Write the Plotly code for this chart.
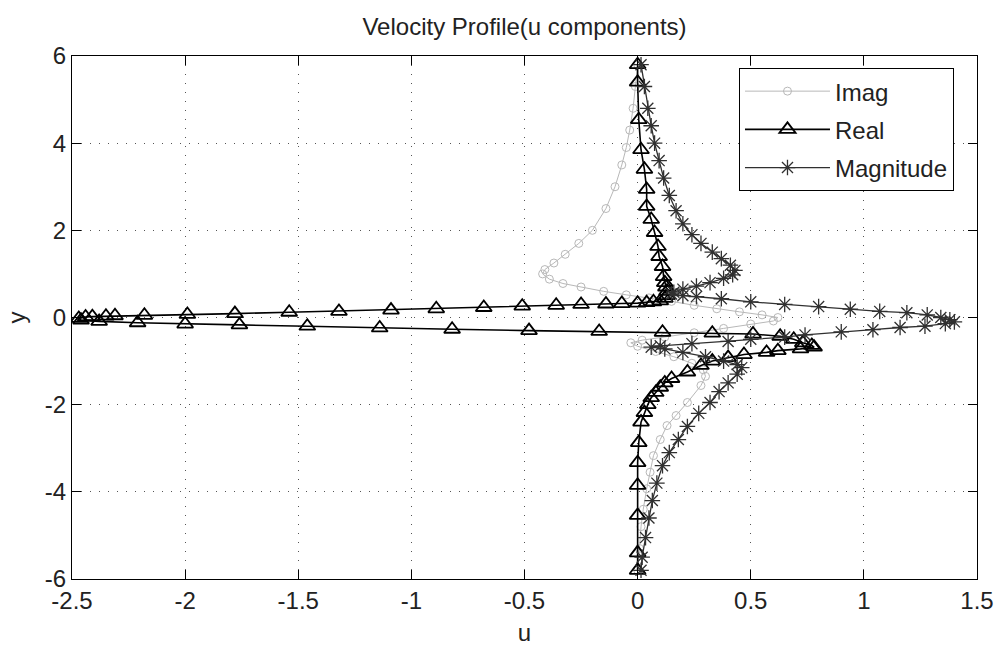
import plotly.graph_objects as go

# ---------------- data ----------------
real_u = [0.0, 0.0, 0.005, 0.015, 0.03, 0.04, 0.04, 0.06, 0.075, 0.09, 0.095, 0.11, 0.115, 0.12, 0.125, 0.13, 0.13, 0.12,
          0.1, 0.07, 0.04, 0.0, -0.07, -0.14, -0.25, -0.36, -0.51, -0.68, -0.89, -1.09, -1.32, -1.54, -1.78, -1.99,
          -2.18, -2.31, -2.35, -2.41, -2.44, -2.47,
          -2.46, -2.38, -2.21, -2.0, -1.76, -1.46, -1.14, -0.82, -0.48, -0.17, 0.11, 0.33, 0.51, 0.63, 0.69, 0.73, 0.77, 0.78,
          0.72, 0.62, 0.57, 0.47, 0.4, 0.33, 0.28, 0.22, 0.15, 0.12, 0.1, 0.08, 0.06, 0.045, 0.03, 0.015, 0.005, 0.0, 0.0,
          0.0, 0.0, 0.0]
real_y = [5.8, 5.4, 4.54, 3.85, 3.4, 2.94, 2.55, 2.25, 1.95, 1.63, 1.4, 1.17, 0.94, 0.8, 0.7, 0.6, 0.5, 0.44,
          0.38, 0.36, 0.34, 0.33, 0.32, 0.31, 0.3, 0.28, 0.26, 0.23, 0.2, 0.17, 0.14, 0.12, 0.09, 0.07,
          0.05, 0.04, 0.03, 0.02, 0.01, -0.02,
          -0.06, -0.09, -0.12, -0.15, -0.17, -0.2, -0.24, -0.27, -0.3, -0.32, -0.34, -0.36, -0.38, -0.43, -0.5, -0.58, -0.64, -0.68,
          -0.72, -0.76, -0.8, -0.85, -0.92, -1.0, -1.1, -1.25, -1.4, -1.5, -1.6, -1.72, -1.84, -2.0, -2.18, -2.4, -2.87, -3.33, -3.85,
          -4.54, -5.4, -5.8]

mag_u = [0.015, 0.03, 0.045, 0.06, 0.075, 0.095, 0.115, 0.14, 0.17, 0.2, 0.24, 0.28, 0.33, 0.37, 0.41, 0.43, 0.42, 0.38,
         0.32, 0.26, 0.2, 0.16, 0.15, 0.2, 0.26, 0.37, 0.5, 0.65, 0.8, 0.94, 1.07, 1.19, 1.28, 1.34, 1.38, 1.4, 1.36, 1.27,
         1.16, 1.04, 0.9, 0.74, 0.65, 0.5, 0.4, 0.24, 0.1, 0.06, 0.12, 0.2, 0.3, 0.38, 0.44, 0.46, 0.44, 0.4, 0.36, 0.32,
         0.27, 0.22, 0.18, 0.14, 0.11, 0.085, 0.065, 0.05, 0.035, 0.02, 0.015]
mag_y = [5.8, 5.3, 4.8, 4.4, 4.0, 3.6, 3.2, 2.8, 2.45, 2.15, 1.9, 1.7, 1.5, 1.35, 1.2, 1.08, 0.98, 0.9,
         0.8, 0.72, 0.65, 0.58, 0.54, 0.5, 0.48, 0.43, 0.36, 0.3, 0.25, 0.19, 0.14, 0.11, 0.06, 0.0, -0.05, -0.1, -0.14, -0.2,
         -0.23, -0.28, -0.33, -0.4, -0.45, -0.5, -0.55, -0.6, -0.65, -0.68, -0.72, -0.8, -0.9, -1.0, -1.08, -1.15, -1.3, -1.5, -1.7, -1.95,
         -2.2, -2.5, -2.8, -3.1, -3.4, -3.8, -4.2, -4.6, -5.05, -5.5, -5.8]

imag_u = [0.0, -0.01, -0.02, -0.035, -0.05, -0.07, -0.1, -0.14, -0.2, -0.26, -0.32, -0.37, -0.41, -0.42, -0.39, -0.33,
          -0.25, -0.15, -0.05, 0.05, 0.15, 0.25, 0.35, 0.45, 0.55, 0.62, 0.6, 0.5, 0.38, 0.25, 0.12, 0.02, -0.03, 0.0,
          0.08, 0.16, 0.24, 0.29, 0.3, 0.28, 0.22, 0.17, 0.13, 0.1, 0.07, 0.055, 0.04, 0.025, 0.015, 0.008, 0.0]
imag_y = [5.8, 5.3, 4.8, 4.3, 3.9, 3.5, 3.0, 2.5, 2.0, 1.7, 1.45, 1.25, 1.1, 1.0, 0.88, 0.78,
          0.7, 0.6, 0.52, 0.45, 0.37, 0.28, 0.2, 0.13, 0.06, 0.0, -0.08, -0.15, -0.25, -0.35, -0.45, -0.52, -0.58, -0.66,
          -0.78, -0.9, -1.05, -1.2, -1.35, -1.56, -1.95, -2.25, -2.48, -2.8, -3.17, -3.55, -3.93, -4.4, -4.8, -5.3, -5.8]

x_ticks = [-2.5, -2, -1.5, -1, -0.5, 0, 0.5, 1, 1.5]
x_tick_labels = ["-2.5", "-2", "-1.5", "-1", "-0.5", "0", "0.5", "1", "1.5"]
y_ticks = [-6, -4, -2, 0, 2, 4, 6]
y_tick_labels = ["-6", "-4", "-2", "0", "2", "4", "6"]

FONT = "Liberation Sans, Arial, sans-serif"
FS = 24
TXT = "#222222"

fig = go.Figure()
fig.add_trace(go.Scatter(
    x=imag_u, y=imag_y, mode="lines+markers", name="Imag", legendgroup="g1",
    line=dict(color="#b8b8b8", width=1),
    marker=dict(symbol="circle-open", size=8, color="#b8b8b8", line=dict(width=1, color="#b8b8b8")),
))
fig.add_trace(go.Scatter(
    x=real_u, y=real_y, mode="lines+markers", name="Real", legendgroup="g2",
    line=dict(color="black", width=1.6),
    marker=dict(symbol="triangle-up-open", size=14, color="black", line=dict(width=1.8, color="black")),
))
fig.add_trace(go.Scatter(
    x=mag_u, y=mag_y, mode="lines+markers", name="Magnitude", legendgroup="g3",
    line=dict(color="#303030", width=1.3),
    marker=dict(symbol="asterisk-open", size=13, color="#303030", line=dict(width=1.3, color="#303030")),
))

axis_common = dict(
    showline=True, linecolor="black", linewidth=1, mirror="ticks",
    ticks="inside", ticklen=9, tickcolor="black", tickwidth=1,
    showgrid=True, gridcolor="#555555", gridwidth=1, griddash="1px,8px",
    zeroline=False, automargin=False, tickfont=dict(family=FONT, size=FS, color=TXT),
)

fig.update_xaxes(range=[-2.5, 1.5], tickvals=x_ticks, ticktext=x_tick_labels,
                 title=dict(text="u", font=dict(family=FONT, size=FS, color=TXT), standoff=14),
                 **axis_common)
fig.update_yaxes(range=[-6, 6], tickvals=y_ticks, ticktext=y_tick_labels,
                 title=dict(text="y", font=dict(family=FONT, size=FS, color=TXT), standoff=12),
                 **axis_common)

fig.update_layout(
    width=994, height=646,
    margin=dict(l=72, r=17, t=56, b=67),
    paper_bgcolor="white", plot_bgcolor="white",
    title=dict(text="Velocity Profile(u components)", x=0.5, xref="paper", xanchor="center",
               y=1 - 27 / 646, yref="container", yanchor="middle",
               font=dict(family=FONT, size=FS, color=TXT)),
    legend=dict(x=0.737, y=0.977, xanchor="left", yanchor="top",
                bgcolor="white", bordercolor="black", borderwidth=1,
                font=dict(family=FONT, size=FS, color=TXT),
                itemwidth=85, tracegroupgap=4),
    showlegend=True,
)

fig.write_html("out.html")
